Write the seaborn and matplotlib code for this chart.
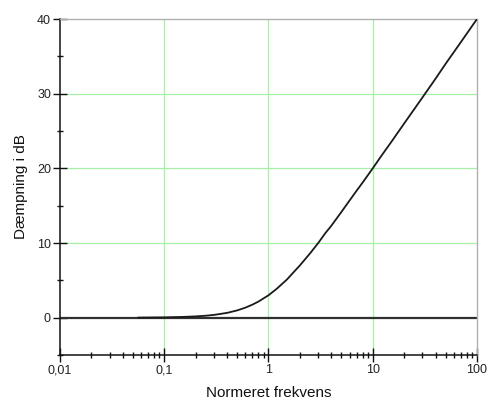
import matplotlib
matplotlib.use("Agg")
import matplotlib.pyplot as plt
import matplotlib.ticker as mticker
import seaborn as sns
import pandas as pd

# Data
freq = [0.056, 0.08, 0.1, 0.15, 0.2, 0.25, 0.3, 0.4, 0.5, 0.6, 0.7, 0.8, 1.0, 1.2, 1.5, 2.0, 2.5, 3.0, 3.5,
        4.0, 5.0, 6.0, 7.0, 8.0, 10.0, 12.0, 15.0, 20.0, 30.0, 40.0, 50.0, 70.0, 100.0]
damp_db = [0.01, 0.03, 0.04, 0.1, 0.17, 0.26, 0.37, 0.64, 0.97, 1.34, 1.74, 2.15, 3.0, 3.87, 5.1, 7.0, 8.6,
           10.0, 11.3, 12.3, 14.15, 15.7, 17.0, 18.1, 20.0, 21.6, 23.5, 26.0, 29.5, 32.0, 34.0, 36.9, 40.0]
x_ticks = [0.01, 0.1, 1, 10, 100]
x_tick_labels = ["0,01", "0,1", "1", "10", "100"]
y_ticks = [0, 10, 20, 30, 40]
y_tick_labels = ["0", "10", "20", "30", "40"]
x_label = "Normeret frekvens"
y_label = "Dæmpning i dB"

sns.set_style("white")
plt.rcParams["font.family"] = ["Liberation Sans", "DejaVu Sans"]

df = pd.DataFrame({"f": freq, "dB": damp_db})

fig = plt.figure(figsize=(4.89, 4.03), dpi=100)
ax = fig.add_axes([60 / 489, 1 - 355 / 403, 417 / 489, 336 / 403])

ax.set_xscale("log")
ax.set_xlim(0.01, 100)
ax.set_ylim(-5, 40)

grid_c = "#a6f0a6"
for xv in x_ticks[1:-1]:
    ax.axvline(xv, color=grid_c, lw=0.9, zorder=0.5)
for yv in y_ticks[1:-1]:
    ax.axhline(yv, color=grid_c, lw=0.9, zorder=0.5)

ax.axhline(0, color="#303030", lw=1.6, zorder=2)
sns.lineplot(data=df, x="f", y="dB", ax=ax, color="#1a1a1a", lw=1.3, zorder=3)

ax.set_xticks(x_ticks)
ax.set_xticklabels(x_tick_labels)
ax.xaxis.set_minor_locator(mticker.LogLocator(base=10, subs=range(2, 10)))
ax.xaxis.set_minor_formatter(mticker.NullFormatter())
ax.set_yticks(y_ticks)
ax.set_yticklabels(y_tick_labels)
ax.yaxis.set_minor_locator(mticker.MultipleLocator(5))

ax.tick_params(axis="both", which="major", direction="inout", length=10, width=1.0,
               color="#111111", labelsize=9, labelcolor="#222222", pad=1.5)
ax.tick_params(axis="both", which="minor", direction="inout", length=5, width=1.0,
               color="#111111")
ax.tick_params(bottom=True, left=True, top=False, right=False, which="both")

for s in ["left", "bottom"]:
    ax.spines[s].set_color("#111111")
    ax.spines[s].set_linewidth(1.1)
for s in ["top", "right"]:
    ax.spines[s].set_color("#b0b0b0")
    ax.spines[s].set_linewidth(1.0)

ax.set_xlabel(x_label, fontsize=11, color="#111111", labelpad=7)
ax.set_ylabel(y_label, fontsize=11, color="#111111", labelpad=6.5)

fig.savefig("out.png", dpi=100, facecolor="white")
